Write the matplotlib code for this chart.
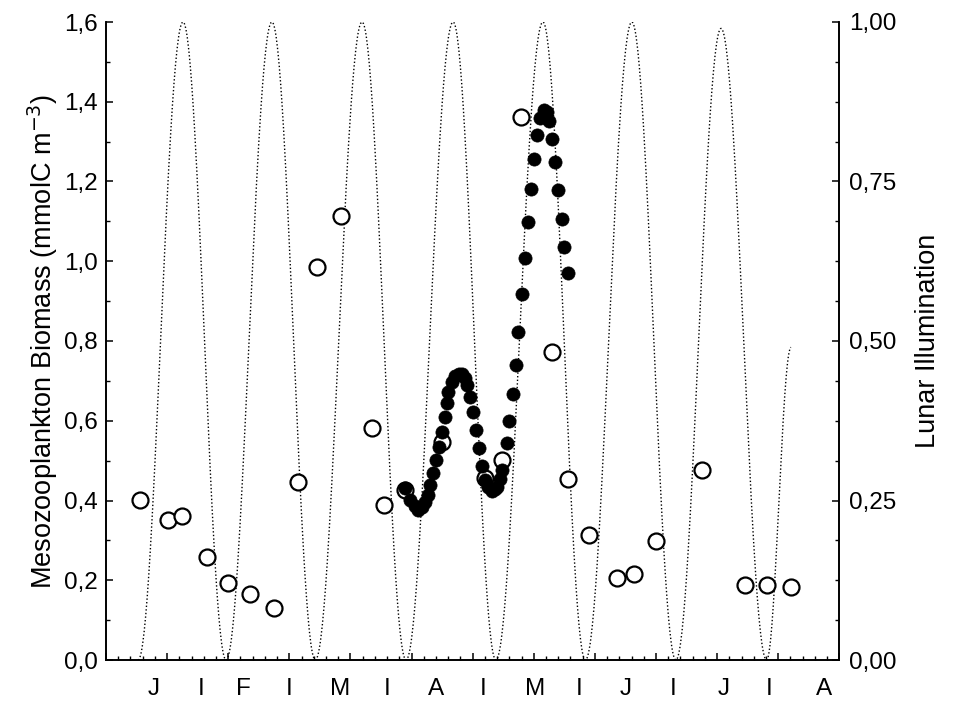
import matplotlib
matplotlib.use("Agg")
import matplotlib.pyplot as plt
import numpy as np
from matplotlib.ticker import MultipleLocator, FuncFormatter

plt.rcParams['font.family'] = ['Liberation Sans', 'DejaVu Sans']
plt.rcParams['xtick.direction'] = 'in'
plt.rcParams['ytick.direction'] = 'in'

# ---- data (x in days from start of record) ----
open_days = [11.1, 20.3, 24.9, 33.1, 39.9, 47.1, 55.0, 62.8, 69.1, 76.9, 87.1, 91.0,
             97.9, 110.0, 124.0, 129.6, 135.8, 146.0, 151.2, 158.1, 167.2, 172.8,
             180.0, 195.1, 209.1, 216.3, 224.2]
open_biomass = [0.401, 0.351, 0.361, 0.258, 0.193, 0.166, 0.130, 0.446, 0.986, 1.113,
                0.582, 0.389, 0.426, 0.547, 0.456, 0.502, 1.362, 0.772, 0.454, 0.313,
                0.206, 0.216, 0.298, 0.476, 0.188, 0.188, 0.183]

filled_days = [97.9, 99.5, 101.1, 102.1, 103.4, 104.4, 105.4, 106.0, 107.0, 108.0,
               109.0, 110.0, 111.0, 111.6, 111.9, 113.2, 114.2, 115.5, 116.5, 117.5,
               118.2, 119.1, 120.1, 121.1, 122.1, 123.1, 124.0, 125.0, 126.3, 127.3,
               128.0, 129.0, 129.6, 131.2, 131.9, 133.2, 134.2, 134.8, 136.2, 137.1,
               138.1, 139.1, 140.1, 141.1, 142.0, 143.4, 144.3, 145.0, 146.0, 147.0,
               147.9, 149.2, 149.9, 151.2]
filled_biomass = [0.431, 0.401, 0.386, 0.376, 0.384, 0.396, 0.414, 0.439, 0.469, 0.502,
                  0.534, 0.572, 0.609, 0.645, 0.672, 0.697, 0.712, 0.717, 0.717, 0.707,
                  0.690, 0.660, 0.622, 0.577, 0.532, 0.487, 0.451, 0.434, 0.424, 0.429,
                  0.434, 0.454, 0.477, 0.544, 0.599, 0.667, 0.740, 0.823, 0.918, 1.008,
                  1.098, 1.181, 1.256, 1.317, 1.359, 1.379, 1.374, 1.352, 1.307, 1.249,
                  1.179, 1.106, 1.036, 0.971]

# lunar events: new moons (0) and full moons (1), plus the start/end of the record
lunar_days = [10.5, 25.2, 39.3, 54.3, 68.5, 83.8, 98.2, 113.6, 127.6, 143.0,
              156.9, 172.1, 186.5, 201.3, 216.2, 224.2]
lunar_illum = [0.0, 1.0, 0.0, 1.0, 0.0, 1.0, 0.0, 1.0, 0.0, 1.0,
               0.0, 1.0, 0.0, 0.99, 0.0, 0.49]

month_label_days = [15.5, 31.0, 44.9, 60.0, 76.6, 92.1, 108.0, 123.5, 140.6, 154.7,
                    170.0, 185.6, 202.0, 216.9, 234.9]
month_labels = ['J', 'I', 'F', 'I', 'M', 'I', 'A', 'I', 'M', 'I', 'J', 'I', 'J', 'I', 'A']

# lunar curve: half-cosine shape between successive events
lx, ly = [], []
for i in range(len(lunar_days) - 1):
    d0, d1 = lunar_days[i], lunar_days[i + 1]
    v0, v1 = lunar_illum[i], lunar_illum[i + 1]
    t = np.linspace(0, 1, 60)
    lx.extend(d0 + (d1 - d0) * t)
    ly.extend(v0 + (v1 - v0) * (1 - np.cos(np.pi * t)) / 2)

FS = 17.5
LFS = 19.5
fig = plt.figure(figsize=(9.54, 7.06), dpi=100)
ax = fig.add_axes([106 / 954, 1 - 660 / 706, (839.3 - 106) / 954, (660 - 22) / 706])
ax2 = ax.twinx()

ax2.plot(lx, ly, color='black', lw=1.0, ls=(0, (1, 1.6)))
ax2.set_ylim(0, 1)

ax.set_zorder(ax2.get_zorder() + 1)
ax.patch.set_visible(False)

ax.plot(open_days, open_biomass, ls='none', marker='o', ms=11.5, mfc='white',
        mec='black', mew=1.6, zorder=3)
ax.plot(filled_days, filled_biomass, ls='none', marker='o', ms=9.5, mfc='black',
        mec='black', mew=0.5, zorder=4)

ax.set_xlim(0, 240)
ax.set_ylim(0, 1.6)

for a in (ax, ax2):
    a.spines['top'].set_visible(False)
    for s in a.spines.values():
        s.set_linewidth(1.2)

ax.xaxis.set_major_locator(MultipleLocator(20))
ax.xaxis.set_minor_locator(MultipleLocator(4))
ax.tick_params(axis='x', which='both', direction='in', labelbottom=False)
ax.tick_params(axis='x', which='major', length=5, width=1.1)
ax.tick_params(axis='x', which='minor', length=3, width=1)

ax.yaxis.set_major_locator(MultipleLocator(0.2))
ax.yaxis.set_minor_locator(MultipleLocator(0.1))
ax.yaxis.set_major_formatter(FuncFormatter(lambda v, p: f"{v:.1f}".replace('.', ',')))
ax.tick_params(axis='y', which='both', direction='in', labelsize=FS, pad=6)
ax.tick_params(axis='y', which='major', length=5, width=1.1)
ax.tick_params(axis='y', which='minor', length=3, width=1)

ax2.yaxis.set_major_locator(MultipleLocator(0.25))
ax2.yaxis.set_minor_locator(MultipleLocator(0.0625))
ax2.yaxis.set_major_formatter(FuncFormatter(lambda v, p: f"{v:.2f}".replace('.', ',')))
ax2.tick_params(axis='y', which='both', direction='in', labelsize=FS, pad=7)
ax2.tick_params(axis='y', which='major', length=5, width=1.1)
ax2.tick_params(axis='y', which='minor', length=3, width=1)

sec = ax.secondary_xaxis('bottom')
sec.set_xticks(month_label_days, month_labels)
sec.tick_params(length=0, labelsize=FS, pad=13)
sec.spines['bottom'].set_visible(False)

ax.set_ylabel('Mesozooplankton Biomass (mmolC m$^{-3}$)', fontsize=LFS, labelpad=3)
ax2.set_ylabel('Lunar Illumination', fontsize=LFS, labelpad=13)

fig.savefig('out.png', dpi=100)
